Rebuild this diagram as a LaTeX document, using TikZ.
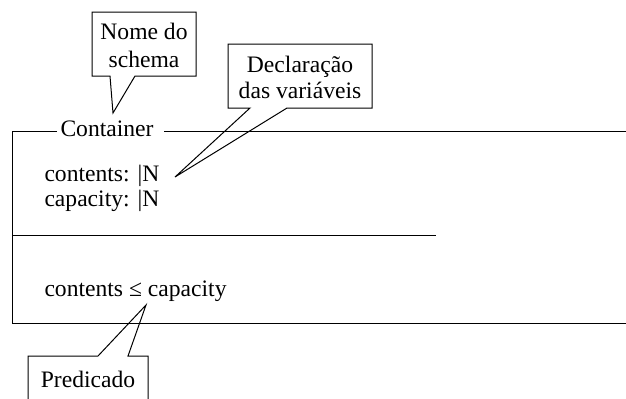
\documentclass[tikz,border=0pt]{standalone}
\usepackage{fontspec}
\setmainfont{Liberation Serif}
\begin{document}
\begin{tikzpicture}[x=0.5pt,y=-0.5pt, line width=0.5pt,
  txt/.style={inner sep=0pt, font=\fontsize{11.8}{14}\selectfont},
  lbl/.style={txt, anchor=base west},
  ctr/.style={txt, align=center},
  callout/.style={draw=black, line join=miter}]
\useasboundingbox (0,0) rectangle (626,398);
% schema frame
\node[lbl] (title) at (60,136.5) {Container};
\coordinate (tl) at (12,131.5);
\coordinate (tr) at (626,131.5);
\coordinate (bl) at (12,323);
\coordinate (br) at (626,323);
\coordinate (ml) at (12,235.5);
\coordinate (mr) at (436,235.5);
\draw ([xshift=-1.5pt]title.west |- tl) -- (tl) -- (bl) -- (br);
\draw ([xshift=5pt]title.east |- tl) -- (tr);
\draw (ml) -- (mr);
% declarations
\node[lbl] (decl1) at (44,181) {contents: \textbar N};
\node[lbl] (decl2) at (44,206) {capacity: \textbar N};
% predicate
\node[lbl] (pred) at (44,296) {contents ≤ capacity};
% callout: schema name
\coordinate (ntip) at (113,113);
\draw[callout] (110,76) -- (92,76) -- (92,12) -- (196,12) -- (196,76) -- (135,76) -- (ntip) -- cycle;
\node[ctr] (nome) at (144,45) {Nome do\\schema};
% callout: declarations
\coordinate (dtip) at (175,177);
\draw[callout] (250,108) -- (228,108) -- (228,44) -- (372,44) -- (372,108) -- (287,108) -- (dtip) -- cycle;
\node[ctr, font=\fontsize{11.8}{13}\selectfont] (declc) at (300,77) {Declaração\\das variáveis};
% callout: predicate
\coordinate (ptip) at (146,305);
\draw[callout] (28,399) -- (28,356) -- (98,356) -- (ptip) -- (128,356) -- (148,356) -- (148,399);
\node[txt, anchor=base] (predc) at (88,387) {Predicado};
\end{tikzpicture}
\end{document}
